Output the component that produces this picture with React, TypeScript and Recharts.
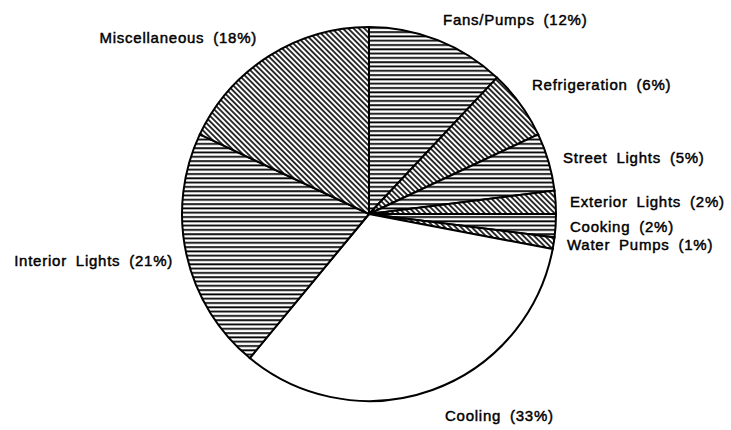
import { PieChart, Pie, Cell } from 'recharts'

// ─── Data ──────────────────────────────────────────────────────────────────
const categories = [
  'Fans/Pumps',
  'Refrigeration',
  'Street Lights',
  'Exterior Lights',
  'Cooking',
  'Water Pumps',
  'Cooling',
  'Interior Lights',
  'Miscellaneous',
]
const shares = [12, 6, 5, 2, 2, 1, 33, 21, 18]

const data = categories.map((name, i) => ({ name, value: shares[i] }))

// fill pattern per slice
const FILLS = [
  'url(#hlines)',
  'url(#dlines)',
  'url(#hlines)',
  'url(#dlines)',
  'url(#hlines)',
  'url(#dlines)',
  '#ffffff',
  'url(#hlines)',
  'url(#dlines)',
]

// label anchor relative to pie centre
const LABEL_POS = [
  { dx: 74, dy: -189, anchor: 'start' },
  { dx: 163, dy: -124, anchor: 'start' },
  { dx: 194, dy: -51, anchor: 'start' },
  { dx: 201, dy: -7, anchor: 'start' },
  { dx: 201, dy: 18, anchor: 'start' },
  { dx: 198, dy: 36, anchor: 'start' },
  { dx: 76, dy: 207, anchor: 'start' },
  { dx: -196, dy: 52, anchor: 'end' },
  { dx: -112, dy: -171, anchor: 'end' },
]

const renderLabel = (props: any) => {
  const { cx, cy, index, name, value } = props
  const p = LABEL_POS[index]
  return (
    <text
      x={cx + p.dx}
      y={cy + p.dy}
      textAnchor={p.anchor}
      fill="#000"
      stroke="#000"
      strokeWidth={0.45}
      fontSize={15}
      fontFamily="'Liberation Sans', Arial, sans-serif"
      style={{ letterSpacing: '0.75px', wordSpacing: '4px' }}
    >
      {`${name} (${value}%)`}
    </text>
  )
}

export default function App() {
  return (
    <div style={{ position: 'absolute', left: 0, top: 0, width: 731, height: 430, background: '#fff' }}>
      <PieChart width={731} height={430} margin={{ top: 0, right: 0, bottom: 0, left: 0 }}>
        <defs>
          <pattern id="hlines" patternUnits="userSpaceOnUse" width="8" height="4.3">
            <rect width="8" height="4.3" fill="#fff" />
            <line x1="0" y1="2" x2="8" y2="2" stroke="#000" strokeWidth="1.8" />
          </pattern>
          <pattern
            id="dlines"
            patternUnits="userSpaceOnUse"
            width="8"
            height="3.8"
            patternTransform="rotate(45)"
          >
            <rect width="8" height="3.8" fill="#fff" />
            <line x1="0" y1="1.9" x2="8" y2="1.9" stroke="#000" strokeWidth="1.6" />
          </pattern>
        </defs>
        <Pie
          data={data}
          dataKey="value"
          nameKey="name"
          cx={369}
          cy={214}
          outerRadius={187}
          startAngle={90}
          endAngle={-270}
          stroke="#000"
          strokeWidth={2}
          label={renderLabel}
          labelLine={false}
          isAnimationActive={false}
        >
          {data.map((d, i) => (
            <Cell key={d.name} fill={FILLS[i]} />
          ))}
        </Pie>
      </PieChart>
    </div>
  )
}
